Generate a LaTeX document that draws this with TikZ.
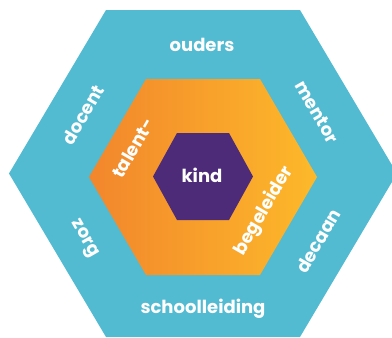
\documentclass[tikz,border=0pt]{standalone}
\usepackage{fontspec}
\setmainfont{Poppins}
\definecolor{hexblue}{HTML}{52BBD1}
\definecolor{hexpurple}{HTML}{4D2B78}
\definecolor{orangeL}{HTML}{F2862C}
\definecolor{orangeR}{HTML}{FDB92A}
\begin{document}
\begin{tikzpicture}[x=1pt,y=-1pt,
  lbl/.style={text=white,font=\bfseries\fontsize{18}{18}\selectfont,inner sep=0pt}]
\useasboundingbox (0,0) rectangle (392,338);
\begin{scope}
\clip (0,0) rectangle (392,338);
\fill[hexblue] (106,10) -- (300,10) -- (397,173.5) -- (300,337) -- (106,337) -- (9,173.5) -- cycle;
\shade[left color=orangeL,right color=orangeR] (146,79) -- (260,79) -- (317,177) -- (260,275) -- (146,275) -- (89,177) -- cycle;
\fill[hexpurple] (177,133) -- (229,133) -- (253,176.5) -- (229,220) -- (177,220) -- (153,176.5) -- cycle;
\end{scope}
\node[lbl] (ouders) at (202,45) {ouders};
\node[lbl] (school) at (203,309) {schoolleiding};
\node[lbl] (kind) at (202,175) {kind};
\node[lbl,rotate=60] (talent) at (133,148) {talent-};
\node[lbl,rotate=60] (begel) at (264,211) {begeleider};
\node[lbl,rotate=60] (docent) at (83,115) {docent};
\node[lbl,rotate=-60] (mentor) at (317,112) {mentor};
\node[lbl,rotate=-60] (zorg) at (84,239) {zorg};
\node[lbl,rotate=60] (decaan) at (318,241) {decaan};
\end{tikzpicture}
\end{document}
